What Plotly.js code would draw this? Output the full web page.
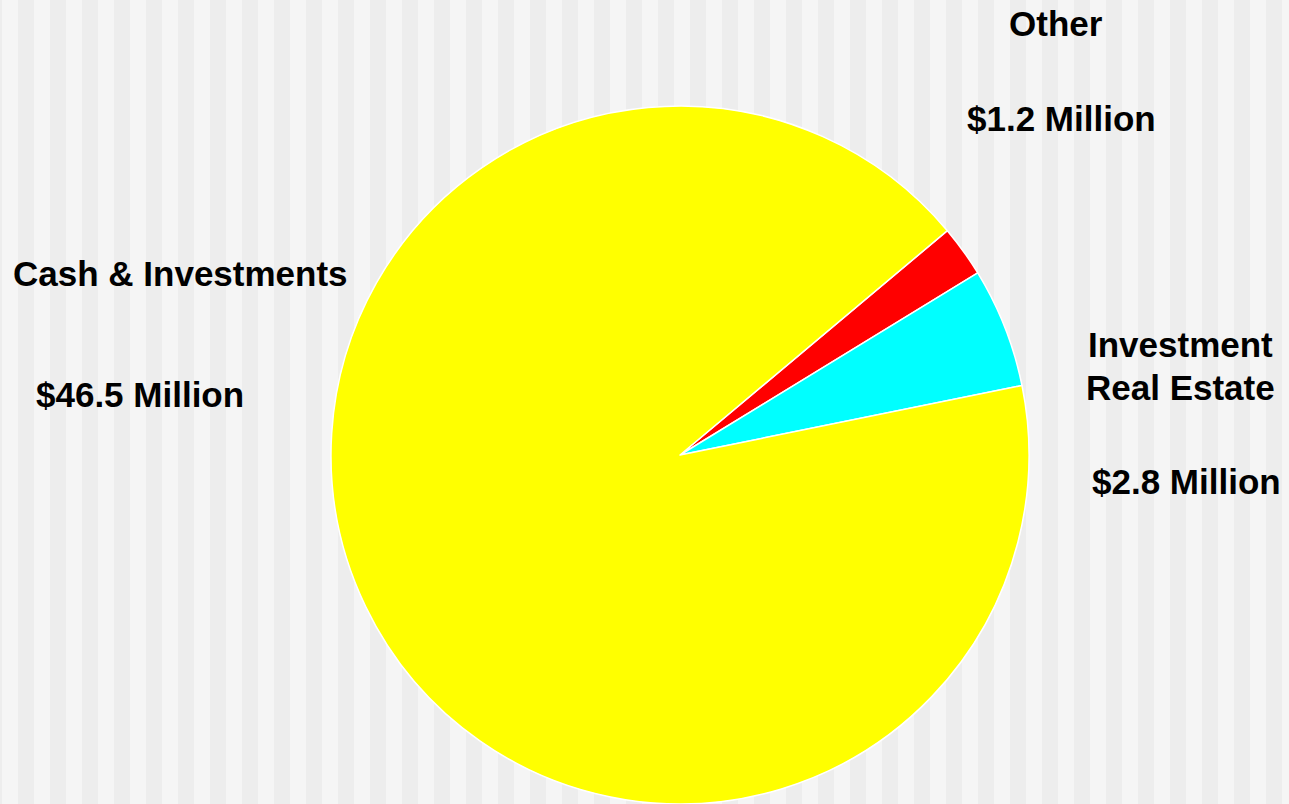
<!DOCTYPE html>
<html>
<head>
<meta charset="utf-8">
<script src="https://cdn.plot.ly/plotly-3.0.1.min.js"></script>
<style>html,body{margin:0;padding:0;background:#f5f5f5;}#chart{width:1289px;height:804px;}</style>
</head>
<body>
<div id="chart"></div>
<script>
// Data
var categories = ["Other", "Investment<br>Real Estate", "Cash & Investments"];
var values = [1.2, 2.8, 46.5];
var valueLabels = ["$1.2 Million", "$2.8 Million", "$46.5 Million"];
var colors = ["#ff0000", "#00ffff", "#ffff00"];

var W = 1289, H = 804;
// label positions (pixel centers of first line) for category name and value text
var namePos = [[1056, 24], [1180, 344], [180, 273]];
var valuePos = [[1061, 119], [1186, 481], [140, 394]];
var lineGap = 43;

var trace = {
  type: 'pie',
  values: values,
  labels: categories,
  marker: {colors: colors, line: {color: '#ffffff', width: 1.5}},
  sort: false,
  direction: 'clockwise',
  rotation: 50,
  textinfo: 'none',
  hoverinfo: 'label+value',
  showlegend: false,
  domain: {x: [331 / W, 1029 / W], y: [0, 698 / H]}
};

var shapes = [];
for (var sx = 18; sx < W; sx += 32) {
  shapes.push({type: 'rect', xref: 'paper', yref: 'paper', x0: sx / W, x1: Math.min(sx + 16, W) / W,
    y0: 0, y1: 1, fillcolor: '#ededed', line: {width: 0}, layer: 'below'});
}
shapes.push({type: 'rect', xref: 'paper', yref: 'paper', x0: 0, x1: 2 / W, y0: 0, y1: 1,
  fillcolor: '#ededed', line: {width: 0}, layer: 'below'});

var font = {family: 'Liberation Sans, Arial, sans-serif', size: 35, color: '#000000'};
var annotations = [];
for (var i = 0; i < categories.length; i++) {
  var lines = categories[i].split('<br>');
  for (var j = 0; j < lines.length; j++) {
    annotations.push({xref: 'paper', yref: 'paper', x: namePos[i][0] / W, y: 1 - (namePos[i][1] + j * lineGap) / H,
      xanchor: 'center', yanchor: 'middle', showarrow: false, text: '<b>' + lines[j] + '</b>', font: font});
  }
  annotations.push({xref: 'paper', yref: 'paper', x: valuePos[i][0] / W, y: 1 - valuePos[i][1] / H,
    xanchor: 'center', yanchor: 'middle', showarrow: false, text: '<b>' + valueLabels[i] + '</b>', font: font});
}

var layout = {
  width: W, height: H,
  margin: {l: 0, r: 0, t: 0, b: 0},
  paper_bgcolor: '#f5f5f5',
  plot_bgcolor: '#f5f5f5',
  shapes: shapes,
  annotations: annotations,
  showlegend: false
};

Plotly.newPlot('chart', [trace], layout, {displayModeBar: false, staticPlot: true});
</script>
</body>
</html>
